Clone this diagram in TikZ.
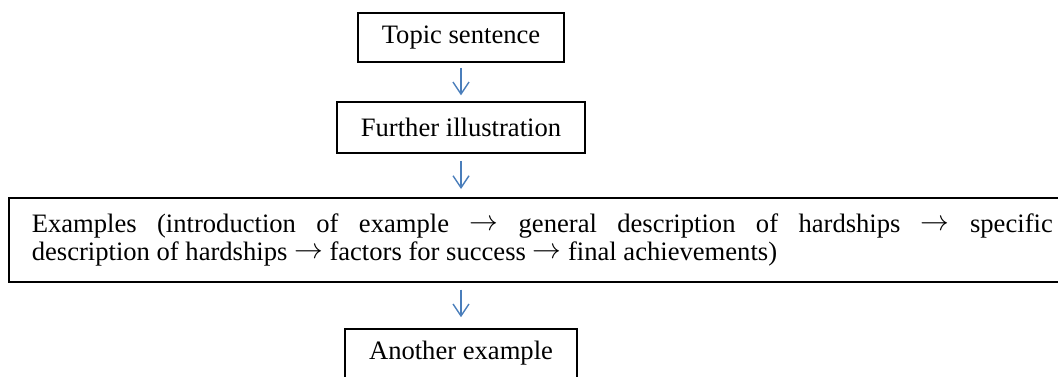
\documentclass[tikz,border=0pt]{standalone}
\usepackage{fontspec}
\setmainfont{Liberation Serif}
\usepackage{xcolor}
\usetikzlibrary{arrows.meta,calc}
\definecolor{flowblue}{HTML}{4A7EBB}
\newcommand{\nextstep}{\raisebox{0.8pt}{$\rightarrow$}}
\hyphenpenalty=10000

\begin{document}
\begin{tikzpicture}[
        stepbox/.style={draw=black, line width=0.8pt, inner xsep=12pt, inner ysep=0pt,
            minimum height=24.5pt, font=\fontsize{13.3pt}{14pt}\selectfont},
        flow/.style={-{Straight Barb[length=6pt,width=8pt]}, line width=0.7pt, flowblue}
    ]
        % Page frame
        \useasboundingbox (0,0) rectangle (529pt,-188pt);
        \clip (0,0) rectangle (529pt,-188pt);

        % Draw the boxes
        \node[stepbox] (topic) at (230.5pt,-18.6pt) {Topic sentence};
        \node[stepbox, minimum height=25.5pt] (further) at (230.5pt,-63.6pt) {Further illustration};
        \node[stepbox, anchor=north west, text width=510.5pt, align=justify, inner xsep=11.5pt,
            minimum height=42pt] (examples) at (4pt,-98.5pt)
            {Examples (introduction of example \nextstep{} general description of hardships \nextstep{} specific\linebreak description of hardships \nextstep{} factors for success \nextstep{} final achievements)};
        \node[stepbox] (another) at (230.5pt,-176.75pt) {Another example};

        % Draw arrows
        \draw[flow, shorten <=2.7pt, shorten >=2.8pt] (topic.south) -- (further.north);
        \draw[flow, shorten <=3.7pt, shorten >=4pt] (further.south) -- (further.south |- examples.north);
        \draw[flow, shorten <=3.5pt, shorten >=5.5pt] (another.north |- examples.south) -- (another.north);

    \end{tikzpicture}
\end{document}
